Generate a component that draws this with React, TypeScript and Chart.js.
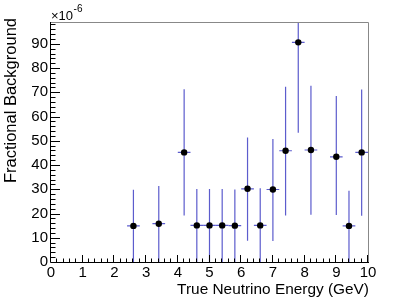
import React, { useEffect, useRef } from "react";
import { Chart, registerables } from "chart.js";

Chart.register(...registerables);

// ---- data (values in units of 1e-6) ----
const energies = [2.6, 3.4, 4.2, 4.6, 5.0, 5.4, 5.8, 6.2, 6.6, 7.0, 7.4, 7.8, 8.2, 9.0, 9.4, 9.8];
const values = [14.9, 15.8, 45.2, 15.1, 15.1, 15.1, 15.0, 30.2, 15.1, 29.9, 45.9, 90.6, 46.2, 43.4, 14.9, 45.2];
const lowerEnds = [0, 0, 19.2, 0, 0, 0, 0, 8.8, 0, 8.7, 19.2, 53.3, 19.5, 19.4, 0, 19.1];
const upperEnds = [29.8, 31.3, 71.3, 30.1, 30.1, 30.1, 29.9, 51.4, 30.4, 50.7, 72.3, 128, 72.7, 68.5, 29.4, 71.2];
const binHalfWidth = 0.2;
const xTickValues = [0, 1, 2, 3, 4, 5, 6, 7, 8, 9, 10];
const yTickValues = [0, 10, 20, 30, 40, 50, 60, 70, 80, 90];
const xTitle = "True Neutrino Energy (GeV)";
const yTitle = "Fractional Background";
const xMin = 0, xMax = 10, yMin = 0, yMax = 99;

const FONT = "'Liberation Sans', Arial, Helvetica, sans-serif";

const rootPlugin = {
  id: "rootStyle",
  beforeDatasetsDraw(chart: any) {
    const { ctx, chartArea: a, scales } = chart;
    const xs = scales.x, ys = scales.y;
    ctx.save();
    ctx.beginPath();
    ctx.rect(a.left, a.top, a.right - a.left, a.bottom - a.top);
    ctx.clip();
    ctx.strokeStyle = "rgb(92,92,205)";
    ctx.lineWidth = 1.2;
    for (let i = 0; i < energies.length; i++) {
      const px = xs.getPixelForValue(energies[i]);
      const py = ys.getPixelForValue(values[i]);
      ctx.beginPath();
      ctx.moveTo(px, ys.getPixelForValue(lowerEnds[i]));
      ctx.lineTo(px, ys.getPixelForValue(upperEnds[i]));
      ctx.moveTo(xs.getPixelForValue(energies[i] - binHalfWidth), py);
      ctx.lineTo(xs.getPixelForValue(energies[i] + binHalfWidth), py);
      ctx.stroke();
    }
    ctx.restore();
  },
  afterDraw(chart: any) {
    const { ctx, chartArea: a, scales } = chart;
    const xs = scales.x, ys = scales.y;
    ctx.save();
    // frame
    ctx.lineWidth = 1;
    ctx.strokeStyle = "#888";
    ctx.beginPath();
    ctx.moveTo(a.left, a.top + 0.5);
    ctx.lineTo(a.right + 0.5, a.top + 0.5);
    ctx.lineTo(a.right + 0.5, a.bottom);
    ctx.stroke();
    ctx.strokeStyle = "#000";
    ctx.beginPath();
    ctx.moveTo(a.left - 0.5, a.top);
    ctx.lineTo(a.left - 0.5, a.bottom + 0.5);
    ctx.lineTo(a.right + 1, a.bottom + 0.5);
    ctx.stroke();
    // x ticks
    ctx.strokeStyle = "#000";
    ctx.beginPath();
    for (let k = 0; k <= 50; k++) {
      const v = xMin + (k * (xMax - xMin)) / 50;
      const px = Math.round(xs.getPixelForValue(v)) - 0.5;
      const len = k % 5 === 0 ? 7 : 3.5;
      ctx.moveTo(px, a.bottom);
      ctx.lineTo(px, a.bottom - len);
    }
    // y ticks
    for (let v = 0; v <= yMax; v += 2) {
      const py = Math.round(ys.getPixelForValue(v)) + 0.5;
      const len = v % 10 === 0 ? 9 : 4.5;
      ctx.moveTo(a.left, py);
      ctx.lineTo(a.left + len, py);
    }
    ctx.stroke();
    // titles
    ctx.fillStyle = "#000";
    ctx.font = `15.4px ${FONT}`;
    ctx.textAlign = "right";
    ctx.textBaseline = "alphabetic";
    ctx.fillText(xTitle, a.right + 1, 294);
    ctx.save();
    ctx.translate(16, a.top - 4);
    ctx.rotate(-Math.PI / 2);
    ctx.font = `16.5px ${FONT}`;
    ctx.textAlign = "right";
    ctx.fillText(yTitle, 0, 0);
    ctx.restore();
    // exponent
    ctx.textAlign = "left";
    ctx.font = `13px ${FONT}`;
    ctx.fillText("\u00d710", a.left, 20);
    const w = ctx.measureText("\u00d710").width;
    ctx.font = `10px ${FONT}`;
    ctx.fillText("-6", a.left + w + 0.5, 12);
    ctx.restore();
  },
};

export default function App() {
  const ref = useRef<HTMLCanvasElement | null>(null);
  useEffect(() => {
    document.body.style.margin = "0";
    if (!ref.current) return;
    const chart = new Chart(ref.current, {
      type: "scatter",
      data: {
        datasets: [
          {
            data: energies.map((e, i) => ({ x: e, y: values[i] })),
            pointRadius: 3.2,
            pointHoverRadius: 3.2,
            backgroundColor: "#000",
            borderWidth: 0,
          },
        ],
      },
      options: {
        responsive: false,
        animation: false,
        events: [],
        layout: { padding: { top: 22, right: 41, left: 0, bottom: 0 } },
        plugins: { legend: { display: false }, tooltip: { enabled: false } },
        scales: {
          x: {
            type: "linear",
            min: xMin,
            max: xMax,
            afterBuildTicks: (s: any) => {
              s.ticks = xTickValues.map((v) => ({ value: v }));
            },
            afterFit: (s: any) => {
              s.height = 38;
            },
            grid: { display: false, drawTicks: false },
            border: { display: false },
            ticks: {
              padding: 2,
              maxRotation: 0,
              autoSkip: false,
              color: "#000",
              font: { family: FONT, size: 15 },
              callback: (v: any) => String(v),
            },
          },
          y: {
            type: "linear",
            min: yMin,
            max: yMax,
            afterBuildTicks: (s: any) => {
              s.ticks = yTickValues.map((v) => ({ value: v }));
            },
            afterFit: (s: any) => {
              s.width = 51;
            },
            grid: { display: false, drawTicks: false },
            border: { display: false },
            ticks: {
              padding: 3,
              autoSkip: false,
              color: "#000",
              font: { family: FONT, size: 15 },
              callback: (v: any) => String(v),
            },
          },
        },
      },
      plugins: [rootPlugin],
    });
    return () => chart.destroy();
  }, []);
  return (
    <div style={{ width: 409, height: 300 }}>
      <canvas ref={ref} width={409} height={300} style={{ display: "block", width: 409, height: 300 }} />
    </div>
  );
}
